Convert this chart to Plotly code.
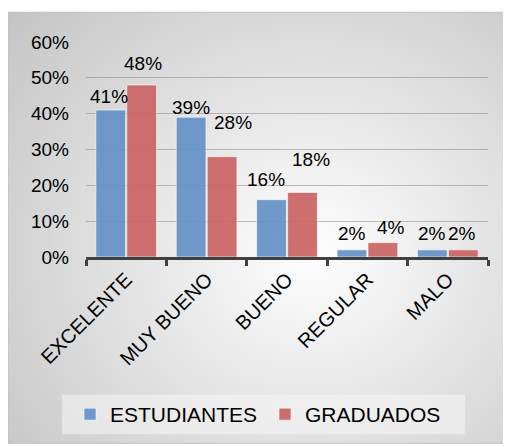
import base64, struct, zlib
import numpy as np
import plotly.graph_objects as go

categories = ["EXCELENTE", "MUY BUENO", "BUENO", "REGULAR", "MALO"]
estudiantes = [0.41, 0.39, 0.16, 0.02, 0.02]
graduados = [0.48, 0.28, 0.18, 0.04, 0.02]
series_names = ["ESTUDIANTES", "GRADUADOS"]
y_ticks = [0, 0.1, 0.2, 0.3, 0.4, 0.5, 0.6]
y_tick_labels = ["0%", "10%", "20%", "30%", "40%", "50%", "60%"]

# label nudges (px) for data labels, style only
est_label_nudge = [(-2, 1), (0, -3), (-6, 8), (0, 4), (0, 4)]
gra_label_nudge = [(1, 9), (11, 22), (8, 21), (8, 3), (-1, 4)]

# page body has an 8px margin; figure coords = page coords - 8
OFF = 8
W, H = 511 - OFF, 447 - OFF
L, R, T, B = 78, 23, 34, 188
PW, PH = W - L - R, H - T - B


def px2paper(x, y):
    # x, y in page pixels
    x -= OFF
    y -= OFF
    return (x - L) / PW, (H - B - y) / PH


def make_png(arr):
    h, w, _ = arr.shape
    raw = b"".join(b"\x00" + arr[i].tobytes() for i in range(h))

    def chunk(tag, data):
        c = struct.pack(">I", len(data)) + tag + data
        return c + struct.pack(">I", zlib.crc32(tag + data) & 0xFFFFFFFF)

    png = b"\x89PNG\r\n\x1a\n"
    png += chunk(b"IHDR", struct.pack(">IIBBBBB", w, h, 8, 2, 0, 0, 0))
    png += chunk(b"IDAT", zlib.compress(raw, 9))
    png += chunk(b"IEND", b"")
    return "data:image/png;base64," + base64.b64encode(png).decode()


# chart-area radial gradient background (page coords)
bx0, by0, bx1, by1 = 8, 12, 504, 447
gw, gh = bx1 - bx0, by1 - by0
yy, xx = np.mgrid[0:gh, 0:gw]
cx, cy = 310 - bx0, 255 - by0
d = np.sqrt(((xx - cx) / 300.0) ** 2 + ((yy - cy) / 280.0) ** 2)
v = np.clip(255 - 44 * d, 190, 255).astype(np.uint8)
img = np.stack([v, v, v], axis=-1)
src = make_png(img)

fig = go.Figure()
fig.add_trace(go.Bar(
    x=categories, y=estudiantes, name=series_names[0],
    marker=dict(color="#6592C8", line=dict(color="rgba(255,255,255,0.6)", width=1)),
    opacity=0.92,
))
fig.add_trace(go.Bar(
    x=categories, y=graduados, name=series_names[1],
    marker=dict(color="#CA6463", line=dict(color="rgba(255,255,255,0.6)", width=1)),
    opacity=0.92,
))

font_family = "Liberation Sans, Arial, sans-serif"
annotations = []
for series, nudges, side in ((estudiantes, est_label_nudge, -1), (graduados, gra_label_nudge, 1)):
    for c, val, (dx, dy) in zip(categories, series, nudges):
        annotations.append(dict(
            x=c, y=val, xref="x", yref="y", text=f"{round(val * 100)}%",
            showarrow=False, yanchor="bottom", xanchor="center",
            xshift=side * 15.5 + dx, yshift=dy,
            font=dict(family=font_family, size=19, color="#000000"),
        ))

ix0, iy0 = px2paper(bx0, by0)
ix1, iy1 = px2paper(bx1, by1)
lx0, ly0 = px2paper(62, 398)
lx1, ly1 = px2paper(465, 438)

fig.update_layout(
    width=W, height=H,
    margin=dict(l=L, r=R, t=T, b=B, pad=0),
    paper_bgcolor="#FFFFFF",
    plot_bgcolor="rgba(0,0,0,0)",
    barmode="group", bargap=0.23, bargroupgap=0.04,
    font=dict(family=font_family, size=18, color="#000000"),
    images=[dict(source=src, xref="paper", yref="paper", x=ix0, y=iy0,
                 sizex=ix1 - ix0, sizey=iy0 - iy1, sizing="stretch",
                 xanchor="left", yanchor="top", layer="below")],
    shapes=[
        dict(type="rect", xref="paper", yref="paper", x0=ix0, y0=iy1, x1=ix1, y1=iy0,
             line=dict(color="#BFBFBF", width=1), fillcolor="rgba(0,0,0,0)", layer="below"),
        dict(type="rect", xref="paper", yref="paper", x0=lx0, y0=ly1, x1=lx1, y1=ly0,
             line=dict(width=0), fillcolor="rgba(245,245,245,0.55)", layer="below"),
    ],
    annotations=annotations,
    showlegend=True,
    legend=dict(orientation="h", x=px2paper(70, 0)[0], xanchor="left",
                y=px2paper(0, 418)[1], yanchor="middle",
                bgcolor="rgba(0,0,0,0)", font=dict(size=21),
                entrywidth=150, entrywidthmode="pixels", itemwidth=30,
                tracegroupgap=0),
    xaxis=dict(
        type="category", showgrid=False, showline=True, linecolor="#404040",
        linewidth=3, ticks="outside", tickson="boundaries", ticklen=6,
        tickwidth=3, tickcolor="#404040", tickangle=-45,
        tickfont=dict(size=20), range=[-0.5, 4.5],
    ),
    yaxis=dict(
        range=[0, 0.6], tickvals=y_ticks, ticktext=y_tick_labels,
        showgrid=True, gridcolor="rgba(120,120,120,0.45)", gridwidth=1,
        zeroline=False, showline=False, ticks="", ticklabelstandoff=16,
        tickfont=dict(size=19),
    ),
)

fig.write_html("out.html")
